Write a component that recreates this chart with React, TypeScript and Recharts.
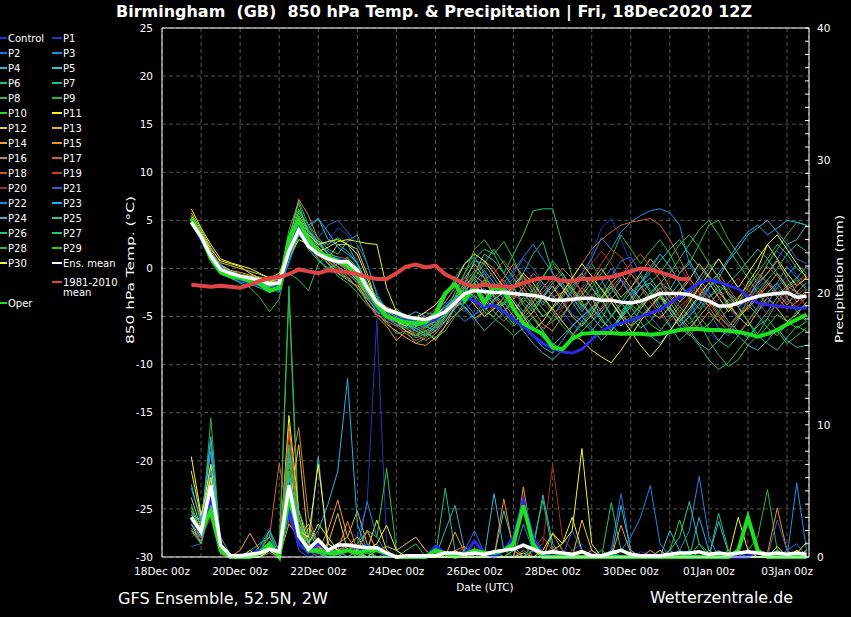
import { ComposedChart, Line, XAxis, YAxis, CartesianGrid, ReferenceLine } from 'recharts';

// forecast hours after 18Dec 00z (6-hourly, 18Dec 18z .. 03Jan 12z)
const hours = Array.from({ length: 64 }, (_, i) => 18 + 6 * i);
const dayTicks = Array.from({ length: 17 }, (_, i) => i * 24);
const dateLabels = ['18Dec 00z', '20Dec 00z', '22Dec 00z', '24Dec 00z', '26Dec 00z', '28Dec 00z', '30Dec 00z', '01Jan 00z', '03Jan 00z'];
const tempTicks = [-30, -25, -20, -15, -10, -5, 0, 5, 10, 15, 20, 25];
const rainTicks = Array.from({ length: 41 }, (_, i) => i);

// 850 hPa temperature (°C)
const tempControl = [4.9, 3.0, 1.2, 0.0, -0.6, -1.2, -1.5, -1.8, -2.2, -1.8, 1.5, 4.5, 2.5, 1.6, 1.2, 1.0, 0.6, -0.5, -2.4, -4.2, -5.0, -5.2, -5.4, -5.6, -5.7, -5.3, -4.5, -3.6, -3.0, -3.4, -4.0, -3.8, -4.5, -5.3, -6.0, -7.0, -7.8, -8.3, -8.7, -8.8, -8.4, -7.4, -6.5, -6.0, -5.7, -5.4, -5.0, -4.6, -4.3, -3.6, -3.0, -2.2, -1.5, -1.2, -1.4, -1.8, -2.1, -2.9, -3.6, -3.8, -3.9, -4.0, -4.1, -4.1];
const tempP1 = [4.6, 3.0, 1.4, 0.2, -0.4, -0.9, -1.3, -1.6, -2.0, -1.8, 1.0, 4.2, 3.0, 2.4, 2.8, 4.2, 3.5, 1.0, -2.5, -4.8, -5.5, -5.2, -5.8, -6.3, -6.0, -5.4, -4.2, -2.5, -1.2, -2.0, -0.5, -1.8, -3.0, -1.5, 0.2, -1.0, -2.8, -4.5, -5.6, -4.2, -2.0, 1.5, 4.2, 5.2, 3.0, 0.5, -1.8, -3.5, -4.8, -6.0, -5.2, -3.8, -5.5, -6.8, -7.5, -6.2, -4.5, -3.0, -1.2, 0.5, 1.8, 1.0, -0.8, -1.5];
const tempP2 = [5.0, 3.5, 1.0, -0.5, -1.0, -1.4, -1.6, -2.0, -2.4, -2.0, 0.5, 3.5, 2.0, 1.0, 0.0, 0.8, 0.2, -1.5, -3.5, -4.8, -5.6, -5.0, -5.8, -6.2, -6.8, -5.5, -4.8, -3.8, -4.5, -3.2, -2.0, -3.5, -2.2, -1.0, -2.5, -4.0, -2.8, -1.5, -3.2, -4.8, -5.5, -4.2, -2.5, -0.8, 0.8, 1.2, -0.5, -2.2, -3.8, -5.0, -3.5, -2.0, -3.2, -4.5, -6.2, -7.0, -5.5, -3.0, -1.8, -0.5, 1.0, 2.5, 1.0, 0.5];
const tempP3 = [4.8, 3.2, 1.2, -0.2, -0.6, -1.0, -1.2, -1.4, -1.8, -2.0, 1.5, 4.5, 3.5, 2.8, 1.5, 0.5, 0.8, 0.0, -1.8, -3.5, -4.8, -6.0, -5.5, -6.8, -6.2, -5.0, -3.8, -2.8, -3.5, -4.8, -4.2, -2.5, -1.8, -3.2, -4.5, -3.0, -1.5, -2.8, -4.0, -2.2, -0.5, 1.0, 3.2, 2.0, 3.8, 4.8, 5.5, 6.0, 6.2, 5.8, 4.5, 0.5, -1.5, -3.0, -2.2, -4.0, -5.2, -4.0, -2.5, -3.8, -1.5, 0.2, -1.0, -2.0];
const tempP4 = [4.9, 3.6, 1.8, 0.4, -0.2, -0.6, -1.0, -1.2, -1.5, -1.2, 2.2, 5.0, 4.2, 5.2, 3.0, 2.5, 1.8, 0.5, -1.5, -3.5, -4.5, -4.8, -5.0, -4.5, -5.0, -6.2, -5.5, -4.0, -2.2, -1.5, -3.0, -4.2, -3.5, -5.0, -6.5, -7.8, -8.8, -9.5, -8.5, -7.0, -5.5, -6.5, -5.2, -3.5, -4.8, -6.0, -4.2, -2.8, -1.5, -2.2, -0.5, 0.8, -1.0, -2.5, -4.0, -5.5, -6.5, -7.2, -5.8, -4.5, -3.0, -1.8, -2.5, -4.0];
const tempP5 = [5.1, 3.4, 1.5, 0.0, -0.4, -0.7, -0.9, -1.1, -1.4, -1.2, 2.5, 4.8, 3.0, 1.8, 1.2, 0.2, -0.5, -1.5, -2.5, -4.0, -4.8, -5.2, -5.5, -5.0, -4.6, -4.8, -4.5, -3.0, -1.5, 0.8, 0.5, -1.0, -2.5, -2.0, -0.8, -2.5, -3.8, -2.5, -1.5, -3.0, -4.5, -3.0, -5.2, -6.5, -4.8, -3.2, -2.0, -1.5, -2.8, -4.5, -6.0, -5.0, -3.8, -2.0, -1.0, 0.8, 2.0, 3.5, 4.2, 5.0, 3.8, 2.5, 3.0, 4.5];
const tempP6 = [4.7, 3.1, 1.1, -0.3, -0.8, -1.1, -1.4, -1.8, -2.5, -1.8, 2.8, 6.0, 4.5, 3.2, 2.0, 1.5, 2.8, 3.5, 0.5, -2.8, -4.2, -4.5, -4.8, -5.5, -5.8, -5.2, -3.0, -1.0, 0.5, 1.2, -0.5, -2.5, -3.8, -2.2, -0.5, 1.5, 2.8, -0.5, -2.0, -3.5, -5.0, -4.2, -3.0, -1.8, -3.5, -5.0, -6.2, -5.5, -4.0, -2.8, -1.5, -3.0, -4.2, -3.0, -1.8, -2.5, -4.0, -5.5, -6.8, -5.2, -3.5, -2.0, -1.2, -2.2];
const tempP7 = [4.9, 3.3, 1.0, -0.4, -0.9, -1.2, -1.5, -1.8, -2.2, -1.5, 3.2, 6.8, 3.5, 1.8, 0.5, -0.5, -1.0, -2.0, -3.0, -3.8, -4.8, -5.5, -6.5, -7.2, -6.8, -6.0, -4.5, -2.5, -0.5, 1.0, 2.0, 1.5, -0.5, 1.5, 3.5, 6.0, 6.2, 6.2, 2.5, -0.8, -2.5, -1.0, -3.2, -5.0, -3.5, -2.0, -0.8, -2.5, -4.2, -6.0, -7.5, -6.5, -5.0, -6.2, -7.5, -8.2, -7.0, -5.5, -4.0, -2.5, -1.5, -3.0, -4.5, -3.8];
const tempP8 = [4.6, 3.0, 0.8, -0.6, -1.0, -1.5, -2.0, -3.0, -4.5, -3.2, 1.5, 3.8, 2.0, 0.8, 0.0, 0.5, 1.2, 0.0, -2.2, -4.0, -5.5, -6.8, -6.5, -7.8, -7.2, -6.5, -5.2, -3.5, -2.0, -3.0, -4.5, -5.0, -3.5, -2.0, -3.8, -5.2, -6.5, -5.0, -3.5, -2.5, -1.0, 0.5, -1.2, -3.0, -4.5, -3.2, -1.5, 0.2, 1.5, 0.2, -1.5, -3.2, -5.5, -7.5, -9.0, -10.2, -9.5, -8.0, -7.0, -7.8, -8.5, -7.2, -6.0, -6.5];
const tempP9 = [5.0, 3.4, 1.4, 0.0, -0.5, -0.8, -1.0, -1.3, -1.6, -1.4, 4.0, 7.0, 4.5, 2.5, 1.8, 1.0, 0.5, -1.0, -3.0, -4.5, -5.0, -4.2, -5.0, -6.0, -6.5, -5.8, -4.2, -3.0, -0.5, 2.0, 3.0, 1.5, 2.8, 1.0, -1.5, -2.8, -1.0, 0.8, -0.5, -2.0, -3.5, -2.0, -0.5, 1.0, 3.5, 2.0, 0.5, 1.8, 3.0, 1.5, -0.5, 0.5, 2.5, 4.5, 5.0, 3.0, 1.5, 0.0, -1.5, 0.5, 2.0, 3.5, 4.8, 4.5];
const tempP10 = [5.2, 3.5, 1.5, 0.2, -0.2, -0.6, -0.8, -1.0, -1.3, -1.0, 3.5, 6.2, 4.0, 2.5, 1.5, 0.8, 0.0, -1.2, -3.2, -4.2, -5.0, -5.5, -5.8, -6.0, -5.8, -5.5, -4.8, -4.0, -3.5, -2.5, -1.2, -3.0, -4.5, -5.8, -4.5, -3.0, -4.2, -5.5, -4.8, -3.5, -2.5, -4.0, -5.5, -6.2, -5.0, -3.8, -4.5, -5.8, -6.5, -5.2, -4.0, -5.0, -6.5, -5.8, -4.5, -3.2, -4.0, -5.5, -7.2, -6.0, -4.8, -5.5, -6.2, -5.5];
const tempP11 = [5.5, 3.8, 2.0, 0.8, 0.5, 0.2, -0.5, -1.0, -1.4, -1.0, 1.0, 3.0, 2.5, 1.8, 2.2, 2.8, 3.0, 2.8, 2.6, 2.5, -2.0, -4.5, -5.5, -6.0, -5.5, -4.8, -4.0, -3.2, -2.5, -3.8, -5.0, -4.2, -3.0, -1.8, -0.5, -1.5, -3.0, -4.2, -5.5, -6.8, -7.5, -8.5, -9.2, -9.8, -8.5, -7.0, -5.5, -4.0, -2.8, -4.0, -5.5, -4.2, -2.8, -1.5, -3.0, -4.5, -3.2, -1.5, 0.0, 2.5, 1.0, -0.5, -1.8, -1.0];
const tempP12 = [5.8, 4.0, 2.2, 0.6, 0.3, 0.0, -0.3, -0.6, -1.0, -0.8, 1.2, 3.5, 3.0, 2.0, 1.0, 2.5, 2.5, 2.0, -0.5, -3.5, -5.0, -5.8, -6.5, -7.0, -6.5, -7.5, -6.0, -4.8, -4.0, -5.2, -4.5, -3.2, -2.5, -4.0, -5.5, -4.5, -3.0, -1.8, -3.5, -5.0, -6.0, -4.8, -3.0, -1.5, -0.5, -2.0, -3.2, -4.5, -5.2, -4.0, -2.5, -1.2, 0.5, -0.8, -2.0, -3.8, -5.0, -6.0, -4.5, -3.0, -4.2, -5.5, -4.8, -3.5];
const tempP13 = [5.3, 3.6, 1.7, 0.3, -0.2, -0.4, -0.7, -0.9, -1.2, -1.1, 2.0, 4.0, 2.8, 1.6, 0.5, -0.5, -1.2, -1.8, -2.5, -3.2, -4.0, -4.5, -5.2, -6.0, -5.5, -4.5, -3.5, -2.0, -1.0, 0.5, -1.0, -2.8, -4.0, -5.5, -4.8, -3.5, -2.0, -0.8, -2.0, -3.5, -2.8, -1.5, 0.0, -1.5, -3.0, -2.0, -0.5, 1.0, -0.2, -2.0, -3.5, -2.5, -1.0, 0.5, -1.0, -2.8, -4.0, -3.0, -1.5, -0.5, 0.8, -1.0, -2.5, -3.0];
const tempP14 = [5.0, 3.3, 1.0, -0.5, -0.9, -1.1, -1.4, -1.7, -2.0, -1.6, 2.5, 5.5, 3.8, 2.2, 1.2, 0.5, 0.2, -0.8, -2.8, -4.5, -5.8, -6.5, -7.2, -7.8, -8.0, -7.2, -6.0, -4.0, -2.5, -1.0, -2.5, -3.8, -4.5, -3.2, -2.0, -3.5, -5.0, -4.2, -2.8, -1.5, -0.5, -2.0, -3.5, -2.5, -1.2, -2.8, -4.2, -3.0, -2.0, -3.5, -5.0, -6.2, -5.0, -3.8, -2.5, -3.5, -5.0, -4.2, -3.0, -1.8, -0.5, -2.0, -3.5, -2.2];
const tempP15 = [5.2, 3.4, 1.3, -0.2, -0.6, -0.9, -1.1, -1.3, -1.7, -1.3, 2.2, 4.6, 3.2, 2.0, 1.0, 0.2, -0.5, -1.5, -3.5, -5.0, -6.0, -7.5, -6.5, -7.0, -6.0, -5.5, -4.5, -3.2, -1.8, -0.8, -1.5, -2.2, -1.0, 0.5, -0.8, -2.0, -3.5, -2.5, -1.0, -2.2, -3.8, -5.0, -4.2, -3.0, -4.5, -6.0, -5.2, -4.0, -3.0, -4.5, -6.0, -7.0, -5.8, -4.5, -5.5, -6.5, -5.2, -4.0, -2.8, -1.5, -2.5, -3.8, -2.5, -1.5];
const tempP16 = [5.0, 3.2, 1.1, -0.4, -0.8, -1.2, -1.5, -1.9, -2.2, -1.0, 3.0, 7.2, 5.5, 3.0, 1.5, 0.5, 0.0, -1.0, -3.0, -4.5, -5.0, -5.8, -6.2, -6.8, -7.5, -6.8, -5.5, -4.0, -3.0, -2.0, -3.2, -4.5, -5.5, -4.5, -3.0, -4.2, -5.8, -6.5, -5.0, -3.5, -2.0, -3.0, -4.5, -3.2, -2.0, -0.5, -1.8, -3.0, -4.5, -3.5, -2.2, -1.0, -2.5, -4.0, -5.5, -4.2, -3.0, -1.8, -0.5, -1.5, -3.0, -4.2, -3.5, -2.5];
const tempP17 = [4.8, 3.1, 1.2, -0.1, -0.6, -0.9, -1.2, -1.5, -1.8, -1.5, 1.8, 4.2, 2.8, 1.5, 0.8, 0.0, -0.8, -2.0, -3.5, -4.8, -5.5, -6.0, -6.8, -7.5, -7.0, -6.5, -5.0, -3.5, -2.0, -0.5, 0.8, 0.0, -1.5, -3.0, -2.0, -0.5, -1.5, -3.0, -2.5, -1.0, 0.5, 2.0, 3.0, 3.8, 4.5, 4.8, 5.0, 5.2, 4.5, 3.0, 1.0, -1.0, -2.5, -1.5, -0.5, -2.0, -3.5, -2.5, -1.0, 0.2, -0.8, -2.2, -1.5, -0.5];
const tempP18 = [5.1, 3.3, 1.4, 0.0, -0.5, -0.8, -1.1, -1.3, -1.6, -1.3, 2.0, 4.4, 3.0, 1.8, 1.2, 0.5, 0.0, -0.8, -2.5, -4.0, -4.8, -5.2, -5.5, -6.2, -6.8, -6.0, -5.0, -3.8, -2.8, -2.0, -1.2, -0.5, 0.8, -0.5, -2.0, -3.5, -2.5, -1.2, 0.0, -1.0, -2.5, -4.0, -3.2, -2.0, -0.8, 0.5, 1.5, 0.2, -1.2, -2.8, -4.0, -3.0, -2.0, -3.5, -5.0, -6.0, -4.8, -3.5, -2.0, -3.0, -4.2, -3.0, -1.8, -0.8];
const tempP19 = [4.9, 3.2, 1.3, -0.1, -0.5, -0.9, -1.3, -1.6, -2.0, -1.5, 1.5, 3.8, 2.5, 1.2, 0.8, 1.2, 1.0, -0.2, -2.0, -3.8, -5.0, -5.5, -6.0, -5.5, -5.0, -4.2, -3.5, -2.0, -1.0, -2.0, -3.2, -2.5, -1.2, -2.5, -3.8, -5.0, -6.2, -5.5, -4.2, -3.0, -2.0, -1.2, 0.5, 2.0, 1.2, -0.5, -2.0, -3.5, -4.8, -5.5, -4.5, -3.2, -2.0, -3.0, -4.5, -5.8, -6.8, -5.5, -4.2, -3.0, -2.0, -3.2, -4.0, -3.0];
const tempP20 = [5.0, 3.4, 1.5, 0.1, -0.3, -0.6, -0.9, -1.2, -1.5, -1.2, 1.8, 4.0, 2.6, 1.4, 0.6, 0.0, -0.6, -1.5, -3.0, -4.2, -5.0, -5.5, -6.0, -6.8, -6.2, -5.5, -4.5, -3.5, -2.8, -3.5, -4.8, -4.0, -3.0, -2.0, -1.0, -2.2, -3.5, -4.8, -4.0, -2.5, -1.0, 0.5, 1.8, 0.5, -1.2, -2.5, -3.8, -3.0, -2.2, -1.0, 0.2, -1.5, -3.0, -4.0, -3.2, -2.0, -1.0, -2.2, -3.5, -4.8, -3.5, -2.2, -3.0, -3.8];
const tempP21 = [4.7, 3.0, 1.0, -0.3, -0.8, -1.1, -1.5, -1.9, -2.3, -2.0, 1.2, 3.8, 3.5, 3.2, 4.5, 5.0, 3.8, 2.5, 0.5, -2.5, -4.5, -5.5, -6.0, -6.5, -6.0, -5.2, -4.0, -3.0, -4.2, -5.5, -4.5, -3.5, -2.0, -0.5, 1.0, 0.0, -1.5, -3.0, -4.5, -5.8, -6.5, -5.5, -4.0, -2.5, -1.0, -2.2, -3.5, -5.0, -6.2, -7.0, -6.0, -4.8, -3.5, -2.0, -1.0, -2.5, -4.0, -3.2, -2.0, -1.2, -2.5, -3.5, -2.8, -2.0];
const tempP22 = [4.8, 3.2, 1.3, -0.1, -0.5, -0.9, -1.2, -1.5, -1.9, -1.7, 1.6, 4.3, 3.2, 2.5, 1.8, 1.0, 0.8, -0.5, -2.5, -4.0, -5.2, -5.8, -6.2, -5.8, -5.2, -4.5, -3.5, -4.5, -5.5, -4.8, -3.5, -2.5, -1.5, -0.2, 1.2, 2.5, 1.0, -0.5, -1.8, -3.0, -4.2, -3.0, -1.5, 0.0, -1.2, -2.8, -1.5, -0.2, 1.5, 0.2, -1.5, -2.8, -1.5, 0.0, 1.0, -0.5, -2.0, -3.2, -4.5, -3.5, -2.0, -0.8, 0.5, -0.5];
const tempP23 = [5.0, 3.5, 1.6, 0.2, -0.3, -0.7, -1.0, -1.4, -1.8, -2.5, 1.0, 3.5, 4.5, 5.2, 3.8, 2.2, 1.5, 0.5, -1.5, -3.0, -4.2, -4.8, -5.2, -5.5, -6.0, -6.5, -5.5, -4.2, -3.0, -1.5, -0.2, -1.5, -2.8, -4.0, -5.5, -7.0, -8.2, -8.8, -7.5, -6.0, -5.0, -4.0, -5.2, -6.5, -5.0, -3.5, -2.0, -1.0, -2.5, -4.0, -5.5, -4.5, -3.0, -2.0, -0.5, 1.0, 2.5, 3.8, 4.5, 3.5, 4.2, 5.0, 4.8, 4.5];
const tempP24 = [5.0, 3.3, 1.2, -0.2, -0.6, -1.0, -1.3, -1.6, -2.0, -1.8, 2.5, 5.0, 3.8, 2.8, 1.5, 0.5, -0.2, -1.2, -2.8, -4.0, -4.5, -5.0, -5.5, -6.0, -5.5, -5.0, -4.0, -3.2, -4.0, -5.2, -6.5, -5.5, -4.5, -3.5, -4.8, -6.0, -7.2, -8.0, -7.0, -6.0, -5.0, -6.2, -7.5, -6.5, -5.2, -4.0, -5.5, -7.0, -7.8, -6.5, -5.2, -6.5, -7.8, -8.5, -7.5, -6.2, -7.0, -8.0, -8.5, -7.5, -6.2, -7.5, -8.2, -8.0];
const tempP25 = [4.9, 3.2, 1.1, -0.3, -0.7, -1.0, -1.3, -1.5, -1.9, -1.6, 3.0, 5.8, 4.0, 2.8, 2.5, 3.2, 2.5, 0.5, -1.8, -3.5, -4.2, -4.8, -5.5, -6.5, -7.0, -6.0, -4.8, -3.2, -2.0, -0.5, 1.5, 0.8, -0.5, -2.0, -3.5, -4.5, -3.0, -1.5, -0.5, -2.0, -3.5, -5.0, -6.2, -5.0, -3.8, -2.5, -1.5, -0.5, 0.8, 2.0, 3.0, 1.5, 0.2, -1.0, -2.5, -1.5, -0.5, 0.8, 2.0, 1.0, -0.5, -1.8, -1.0, 0.2];
const tempP26 = [5.1, 3.4, 1.3, -0.1, -0.6, -0.9, -1.1, -1.4, -1.8, -1.5, 2.2, 4.8, 3.2, 1.8, 0.8, -0.2, -1.0, -2.0, -3.2, -4.2, -5.0, -5.2, -5.8, -6.5, -7.0, -6.2, -5.0, -3.8, -2.5, -1.0, 0.5, 2.0, 0.5, -1.0, -2.5, -3.8, -5.0, -4.2, -3.0, -1.8, -0.8, -2.0, -3.2, -4.8, -6.0, -5.0, -3.8, -2.5, -1.5, -0.5, 1.0, 2.5, 4.0, 5.0, 3.5, 2.0, 0.5, -1.0, -2.5, -1.2, 0.0, 1.5, 2.5, 1.8];
const tempP27 = [4.8, 3.1, 1.0, -0.5, -0.9, -1.3, -1.6, -2.0, -2.5, -2.2, 0.8, 3.5, 2.8, 1.8, 0.5, -0.8, -1.5, -2.5, -3.8, -4.5, -5.0, -5.5, -5.8, -6.2, -6.8, -7.2, -6.5, -5.0, -3.5, -2.8, -4.0, -5.2, -6.0, -7.0, -6.2, -5.0, -6.5, -7.8, -8.5, -7.5, -6.5, -5.5, -4.5, -5.8, -7.0, -6.2, -5.0, -4.0, -3.0, -4.2, -5.5, -6.8, -8.0, -9.5, -10.5, -9.8, -8.5, -7.2, -6.0, -5.2, -6.5, -7.8, -7.0, -6.2];
const tempP28 = [5.0, 3.3, 1.2, -0.3, -0.7, -1.0, -1.3, -1.7, -2.2, -1.8, 1.5, 4.0, 2.5, 1.0, -0.2, 0.5, 1.0, 0.2, -1.5, -3.0, -4.5, -5.5, -5.0, -5.8, -6.2, -5.5, -4.8, -3.5, -2.0, -1.0, -2.5, -3.8, -5.0, -6.0, -5.2, -4.0, -3.0, -4.5, -6.0, -7.0, -5.8, -4.5, -3.2, -2.0, -3.5, -5.0, -4.0, -2.8, -1.5, -3.0, -4.5, -5.8, -4.5, -3.2, -4.8, -6.0, -5.0, -3.8, -4.8, -6.2, -7.0, -5.8, -4.5, -5.5];
const tempP29 = [5.2, 3.6, 1.6, 0.1, -0.4, -0.8, -1.2, -1.6, -2.0, -1.5, -0.5, -1.2, -2.3, 0.5, 1.5, 1.2, 0.5, -0.5, -2.0, -3.5, -4.8, -5.5, -6.2, -7.0, -6.5, -5.8, -4.5, -3.0, -1.5, -0.2, -1.0, -2.0, -3.2, -4.5, -3.5, -2.2, -0.8, 0.5, -0.8, -2.5, -4.0, -3.2, -2.0, -3.5, -5.0, -4.0, -2.8, -1.5, -0.5, 1.0, 2.5, 3.5, 2.2, 0.5, -1.0, -2.5, -3.5, -2.0, -0.5, 1.0, 2.5, 1.5, 0.0, -0.8];
const tempP30 = [6.2, 4.2, 2.5, 1.0, 0.6, 0.3, 0.0, -0.5, -1.0, -0.5, 2.0, 4.5, 3.5, 2.5, 2.8, 3.0, 2.5, 1.5, -1.0, -3.5, -5.0, -5.5, -6.0, -5.2, -4.5, -3.8, -2.5, -1.5, 0.5, 1.5, 0.8, -0.5, -2.0, -3.5, -5.0, -6.5, -5.5, -4.0, -2.5, -1.0, 0.5, -0.8, -2.2, -3.5, -5.0, -6.5, -8.0, -9.2, -8.0, -6.5, -5.0, -3.5, -2.0, -0.5, 1.0, -0.5, -2.0, -0.5, 1.0, 2.5, 3.5, 2.0, 0.5, -1.0];
const tempMean = [4.8, 3.3, 1.3, -0.1, -0.5, -0.8, -1.0, -1.2, -1.6, -1.5, 1.8, 4.0, 2.3, 1.5, 1.0, 0.7, 0.7, -0.2, -2.0, -3.5, -4.3, -4.6, -5.0, -5.2, -5.3, -5.0, -4.5, -3.6, -2.6, -2.3, -2.4, -2.5, -2.5, -2.6, -2.7, -2.8, -3.0, -3.3, -3.3, -3.2, -3.1, -3.1, -3.3, -3.3, -3.5, -3.6, -3.4, -3.0, -2.6, -2.6, -2.6, -2.7, -3.1, -3.4, -3.9, -3.9, -3.6, -3.2, -2.9, -2.7, -2.6, -2.5, -3.0, -2.9];
const tempClimate = [-1.7, -1.8, -1.9, -1.8, -1.9, -2.0, -1.7, -1.3, -1.0, -0.9, -0.6, -0.1, -0.3, -0.5, -0.2, -0.3, -0.4, -0.6, -0.9, -1.1, -1.1, -0.5, 0.2, 0.4, 0.1, 0.3, -0.6, -1.1, -1.6, -1.9, -1.7, -1.8, -1.9, -1.9, -1.5, -1.2, -1.0, -1.0, -1.3, -1.3, -1.1, -1.1, -1.0, -0.9, -0.6, -0.3, 0.0, -0.1, -0.4, -0.7, -1.1, -1.1];
const tempOper = [5.2, 3.4, 1.0, -0.4, -0.8, -1.0, -1.3, -1.6, -2.3, -2.0, 3.0, 5.0, 3.0, 1.8, 1.2, 0.8, 0.3, -0.8, -2.2, -3.8, -5.0, -5.3, -5.6, -5.7, -5.6, -4.7, -2.6, -1.6, -3.3, -1.8, -3.6, -1.9, -2.2, -4.2, -5.7, -6.3, -6.8, -8.2, -8.4, -7.3, -6.8, -6.7, -6.7, -6.7, -6.8, -6.8, -6.8, -6.9, -6.8, -6.6, -6.4, -6.3, -6.3, -6.4, -6.4, -6.5, -6.6, -6.8, -7.1, -6.8, -6.4, -5.8, -5.3, -4.8];

// 6-hourly precipitation (mm)
const rainControl = [2.8, 1.8, 4.5, 0.6, 0, 0, 0.2, 0.5, 1.0, 0.2, 3.5, 1.0, 0.3, 1.0, 0.5, 0.2, 0.5, 0.3, 0.8, 0.5, 0.2, 0, 0, 0, 0, 0.8, 0.3, 0, 0.2, 1.2, 0.3, 0, 0.5, 1.5, 4.3, 1.5, 0.2, 0, 0, 0, 0, 0, 0, 0, 0, 0, 0, 0, 0, 0, 0, 0, 0, 0, 0, 0, 0, 0, 0.5, 0, 0, 0, 0, 0];
const rainP1 = [1.5, 2.0, 6.0, 0.5, 0, 0, 0.3, 1.0, 2.2, 0.3, 3.0, 1.5, 0.5, 0, 0.5, 1.0, 2.0, 1.5, 4.0, 18.0, 1.0, 0, 0, 0, 0, 0, 0, 0.3, 0, 0, 0, 0, 0, 0.5, 0, 0, 0.3, 0, 0, 0.5, 1.0, 0.3, 0, 0, 0, 0, 0.4, 0.2, 0, 0, 0, 0, 0, 0, 0, 0, 0, 0.3, 0, 0, 0.5, 0, 0, 0];
const rainP2 = [2.5, 1.2, 5.0, 0.2, 0, 0, 0, 0.5, 1.5, 0, 4.0, 0.5, 0, 0.3, 0, 0.5, 0.8, 0.5, 0, 0, 0.3, 0, 0, 0, 0, 0, 0, 0, 0.5, 2.0, 0.3, 0, 0, 0, 0.5, 0, 0, 0, 0, 0, 0, 0, 0, 0.5, 4.8, 0.5, 0, 0, 0, 0, 0.3, 0, 0, 0, 0, 0, 0, 0, 0, 0, 0, 0.5, 1.0, 0];
const rainP3 = [3.0, 2.2, 8.7, 0.8, 0, 0, 0, 0, 0.5, 0, 6.0, 2.0, 0.5, 0.8, 0.3, 0, 0.5, 0, 0.5, 1.0, 0, 0, 0, 0, 0, 0, 0, 0, 0, 0, 0, 0.5, 0, 0, 2.5, 0.5, 0, 0, 0, 0, 0, 0, 0, 0.3, 0, 0, 0, 0, 0.5, 0, 0, 0, 0, 0, 0.5, 0, 0, 0, 0, 0, 0, 0, 5.6, 0.5];
const rainP4 = [5.5, 2.5, 9.1, 1.0, 0, 0, 0, 0.3, 0.8, 0, 7.5, 1.5, 0.5, 7.6, 0.5, 0, 0.5, 0.3, 0, 0, 0, 0, 0, 0, 0, 0.5, 0, 0, 0, 0, 0, 4.8, 0.5, 0, 0, 0, 0, 0, 0, 0, 0, 0, 0, 0, 3.9, 0.5, 0, 0, 0, 0, 0, 0.5, 0, 0, 2.7, 0.3, 0, 0, 0, 0, 0.5, 0, 0, 0];
const rainP5 = [3.5, 1.5, 7.0, 0.5, 0, 0, 0, 0, 0.3, 0, 5.0, 2.0, 0.8, 0.3, 1.0, 0.5, 0, 0, 0.5, 0, 0, 0, 0, 0, 0, 0, 0, 0.5, 0, 0, 0, 0, 3.5, 0.8, 0, 0, 0, 0.3, 0, 0, 0, 0, 0, 0, 0, 0, 0, 0.5, 0, 2.0, 0.5, 0, 0, 0, 0, 0, 0, 0, 0.3, 0, 0, 0, 0, 0.5];
const rainP6 = [2.0, 1.5, 4.0, 0.2, 0, 0, 0, 0.5, 1.0, 0, 8.0, 3.0, 1.0, 0.5, 0, 0, 0.5, 0.8, 0.3, 0, 0, 0, 0, 0, 0, 0, 5.2, 0.5, 0, 0, 0, 0, 0, 0, 0, 0.5, 0, 0, 0, 0, 0, 0, 0, 0, 0.5, 0, 0, 0, 0, 0, 0, 0, 0, 0, 0, 0, 0.3, 0, 0, 0, 0, 0, 0, 0];
const rainP7 = [2.2, 1.0, 5.5, 0.3, 0, 0, 0, 0.8, 2.0, 0.5, 20.5, 2.5, 0.5, 1.0, 0.5, 0, 0, 0, 0, 0.5, 0, 0, 0, 0, 0, 0, 0, 0, 0, 0, 0, 0, 0, 0.5, 1.0, 0, 0, 0, 0, 0, 0, 0, 0, 4.1, 0.5, 0, 0, 0, 0, 0, 0, 0, 0, 0, 0, 0, 0, 0, 0, 0, 0, 0, 0, 0];
const rainP8 = [3.2, 2.8, 7.0, 1.5, 0.2, 0, 0.5, 1.0, 1.5, 0.3, 4.5, 1.0, 2.2, 0.5, 1.0, 0.5, 0, 0.5, 0, 0, 0, 0, 0, 0, 0, 0, 0, 0, 0, 0.5, 0, 0, 0, 0, 0, 0, 0, 0.5, 0, 0, 0, 0, 0.5, 0, 0, 0, 0, 0, 0, 0, 0, 0, 1.0, 0.3, 0, 0, 0, 0, 0, 0, 0, 0.3, 0, 0];
const rainP9 = [4.0, 1.5, 10.5, 0.8, 0, 0, 0, 0.3, 1.0, 0, 19.8, 1.5, 0.5, 0, 0.3, 0, 0, 0, 0, 0, 0, 0, 0, 0, 0, 0, 0, 0, 0, 0, 0.5, 0, 0, 0, 0, 0, 0, 0, 0, 0, 0, 0, 0, 0, 0, 0, 0, 0, 0, 0, 0.5, 0, 0, 0, 0, 0, 0, 0.5, 1.5, 5.1, 0.5, 0, 0, 0];
const rainP10 = [3.8, 2.0, 6.0, 0.5, 0, 0, 0, 0.2, 1.2, 0, 5.0, 2.0, 0.5, 0.3, 0, 0, 0, 0, 0.3, 0, 0, 0, 0, 0, 0, 0, 0, 0, 0, 0, 0, 0, 0, 0.5, 0, 0, 0, 0, 0, 0, 0, 0, 0, 0, 0.5, 0, 0, 0, 0, 0.5, 2.8, 0.5, 0, 0, 0, 0, 0, 0, 0, 0, 0, 0, 0, 0];
const rainP11 = [6.5, 3.0, 7.0, 1.0, 0, 0, 0, 0, 0.5, 0, 10.7, 3.5, 1.0, 2.5, 1.5, 0.5, 0.8, 1.5, 0.5, 2.8, 0.5, 0, 0, 0, 0, 0, 0, 0.5, 0, 0, 0, 0, 0, 0, 0.3, 0, 0, 0.5, 1.0, 3.0, 0.5, 0, 0, 0, 0, 0, 0, 0, 0, 0, 0, 0, 0, 0, 0, 0, 3.0, 0.5, 0, 0, 0.8, 0, 0.3, 1.1];
const rainP12 = [4.5, 2.2, 5.0, 0.5, 0, 0, 0, 0.5, 0.5, 0, 3.5, 8.5, 1.0, 0.5, 1.0, 3.3, 0.5, 0.3, 0, 0.5, 0.8, 0.5, 1.0, 1.5, 0.5, 0, 0, 0, 0, 0, 0, 0, 0, 0, 0, 0.5, 0, 0, 0, 0, 2.8, 0.5, 0, 0, 0, 0, 0, 0, 0, 0, 0, 0, 0, 0.5, 0, 0, 0, 0, 0, 0, 0.3, 0, 0, 0.5];
const rainP13 = [3.0, 1.8, 5.5, 0.3, 0, 0, 0.5, 0, 0.5, 0, 2.5, 1.5, 2.5, 0.8, 0.5, 1.0, 1.5, 3.5, 1.0, 0.5, 0.3, 0, 0, 0, 0, 0, 0, 0, 0, 0, 0, 0, 0, 0, 0, 0, 0, 1.8, 0.5, 0, 0, 0.5, 0, 0, 0, 0, 0, 0, 0.5, 0, 0, 0, 0, 0, 0, 0, 0, 0, 0, 0, 0, 0, 0.5, 0];
const rainP14 = [2.5, 1.0, 4.0, 0.5, 0, 0.5, 1.8, 0.5, 1.0, 0, 6.5, 2.5, 1.0, 0.5, 2.0, 4.3, 1.5, 0.5, 2.0, 0.5, 0, 0, 0, 0, 0, 0, 0, 1.9, 0.3, 0, 0, 0, 0, 0, 5.3, 0.8, 0, 0, 0, 0, 0, 0, 0, 0, 2.4, 0.3, 0, 0, 0, 0, 0, 0, 0, 0, 0, 0, 0, 0, 0, 0, 0, 0, 0, 0];
const rainP15 = [3.0, 2.0, 6.5, 0.5, 0, 0, 0, 0, 0.8, 0, 10.0, 3.0, 0.5, 0.5, 1.0, 0.5, 2.7, 0.5, 2.0, 0.5, 0, 0, 0, 0, 0, 0, 0, 0, 0, 0, 0, 0, 4.4, 0.5, 0, 0, 0, 0, 0, 0, 0, 0, 0, 0, 0, 0, 0, 0, 0, 0, 0, 0, 0, 0, 0, 0, 0, 0, 0.5, 0.3, 3.7, 0.5, 0, 0];
const rainP16 = [2.8, 1.5, 3.5, 0.5, 0, 0, 0, 0.3, 0.5, 0.5, 6.0, 9.8, 3.0, 1.0, 0.3, 0, 0.5, 0, 0, 0, 0, 0, 0, 0, 0, 0, 0, 0.5, 0.8, 0, 0, 0, 0, 0, 0, 0, 0, 0, 0, 0, 0, 0, 0, 0, 0, 0, 0, 0, 0, 0, 0, 0, 0, 0, 0, 0, 0, 0, 0, 0, 0, 0, 0, 0];
const rainP17 = [3.5, 2.5, 5.8, 1.0, 0.2, 0, 0, 0.5, 1.5, 7.1, 2.5, 1.5, 0.5, 0.8, 0.5, 0.5, 0.5, 0.5, 2.0, 0.5, 0, 0, 0, 0, 0, 0, 0, 0, 0.8, 0, 0, 0, 0, 0, 0, 0, 0, 0, 0, 0, 0, 0, 0, 0, 0, 0, 0, 0.5, 0, 0, 0, 0, 0, 0, 0, 0, 0, 0, 0, 0, 0, 0, 0, 0];
const rainP18 = [2.0, 1.2, 4.5, 0.5, 0, 0, 0, 0, 0.5, 0, 9.5, 2.0, 0.5, 0.3, 0.5, 0, 0, 0, 0, 0, 0, 0, 0, 0, 0, 0, 0, 0, 0, 0, 0, 0, 0, 0, 0.5, 0, 0, 0.8, 0, 0, 0, 0, 0, 0, 0, 0, 0, 0, 0, 0, 0, 0, 0, 0, 0, 0, 0, 0, 0, 0, 0, 0, 0, 0];
const rainP19 = [1.8, 1.5, 3.0, 0.3, 0, 0, 0, 0, 0.5, 0, 4.0, 1.0, 0.5, 0.3, 0, 0.5, 0.8, 0.5, 0, 0, 0, 0, 0, 0, 0, 0, 0, 0, 0, 0, 0, 0, 0, 0, 0, 0.5, 1.5, 0.5, 0, 0, 0, 0, 0, 0, 0, 0, 0, 0, 0, 0, 0, 0, 0, 0, 0, 0, 0, 0, 0, 0, 0, 0, 0, 0];
const rainP20 = [2.5, 1.5, 4.8, 0.2, 0, 0, 0, 0, 0.3, 0, 3.5, 1.5, 0.5, 0, 0.5, 0, 0, 0, 0, 0, 0, 0, 0, 0, 0, 0, 0, 0, 0, 0, 0, 0, 0, 0, 0, 0.5, 1.0, 7.0, 1.5, 0.5, 0, 0, 0, 0, 0, 0, 0, 0, 0, 0, 0, 0, 0, 0, 0, 0, 0, 0, 0, 0, 0, 0, 0, 0];
const rainP21 = [0.8, 1.0, 3.5, 0.5, 0, 0, 0, 0.5, 1.8, 0, 3.0, 1.0, 0.5, 0, 0, 0, 0, 0.5, 1.0, 0.5, 0, 0, 0, 0, 0, 0, 0, 0, 0, 0, 0, 0, 0, 0, 0, 0, 0, 0, 0, 2.0, 0.5, 0, 0, 0, 0, 0, 0, 0, 0, 0, 0, 0, 0, 0, 0, 0, 0, 0, 0, 0, 2.8, 0.5, 0, 0];
const rainP22 = [3.0, 2.0, 6.5, 0.5, 0, 0, 0, 0, 0.5, 0, 5.5, 2.0, 0.5, 1.0, 0.5, 0.5, 1.0, 0.5, 4.2, 1.5, 0.3, 0, 0, 0, 0, 0, 0, 0, 0, 0, 0, 0, 0, 0, 0, 0, 0, 0, 0, 0, 0, 0, 0, 0, 0.5, 1.5, 3.0, 5.4, 1.0, 0, 0.5, 2.0, 6.1, 1.5, 0, 0, 0, 0, 0, 0, 0, 0, 0, 0];
const rainP23 = [5.2, 2.8, 8.0, 0.8, 0, 0, 0, 0, 0.5, 0, 6.0, 3.0, 1.0, 2.0, 4.0, 6.5, 13.5, 2.5, 0.5, 0, 0, 0, 0, 0, 0, 0, 0, 0, 0, 0, 0, 0, 0, 0, 0, 0, 0, 0, 0, 0, 0, 0, 0, 0.5, 0, 0, 0, 0, 0, 0, 0, 0, 3.0, 0.5, 0, 0, 0, 0, 0, 0, 0, 0, 0, 0];
const rainP24 = [3.5, 2.5, 6.0, 0.5, 0, 0, 0, 0, 0.8, 0, 4.0, 1.5, 0.3, 0.5, 0, 0, 0, 0.5, 0, 0, 0, 0, 0, 0, 0, 0, 2.0, 3.9, 0.5, 0, 0, 0, 0, 0, 0, 0.5, 4.7, 1.0, 0, 0, 0, 0, 0, 0, 0, 0, 0, 0, 0, 0.5, 0, 0, 0, 0, 0, 0, 0, 0, 0, 0, 0, 0, 0, 0];
const rainP25 = [2.5, 1.5, 5.0, 0.5, 0, 0, 0, 0, 0.5, 0, 4.5, 1.0, 0.5, 0.3, 0, 0, 0, 0, 0, 0, 0, 0, 0, 0, 0, 0, 0, 0, 0, 0, 0, 0, 0, 0, 0, 0, 0, 0, 0, 0, 0.5, 0, 0, 0, 0, 0, 0, 0, 0, 0.5, 1.5, 4.2, 1.0, 0, 0, 0, 0, 0, 0, 0, 0, 0, 0, 0];
const rainP26 = [3.0, 1.8, 5.5, 0.8, 0, 0, 0, 0, 1.0, 0, 5.5, 2.5, 0.5, 0.5, 0, 0, 0, 0, 0, 0, 0, 0, 0, 0, 0, 0, 0, 0, 0, 0, 0, 0.5, 0, 0, 0, 1.0, 4.3, 0.5, 0, 0, 0, 0, 0, 0, 0, 0, 0, 0, 0, 0, 0, 0, 0, 0, 3.3, 0.5, 0, 0, 0, 0, 0, 0, 0, 0];
const rainP27 = [2.0, 1.0, 4.0, 0.3, 0, 0, 0, 0, 0.5, 0, 8.5, 2.0, 0.5, 0.3, 0, 0.5, 0.5, 1.0, 2.0, 1.5, 6.7, 0.5, 0, 0, 0, 0, 0, 0, 0, 0, 0, 0, 0, 0, 0, 0, 0, 0, 0, 0, 0, 0, 0, 0, 0, 0, 0, 0, 0, 0, 0, 0, 0, 0, 0, 0, 0, 0, 0, 0, 0, 0, 0, 0];
const rainP28 = [2.8, 1.6, 4.8, 0.5, 0, 0, 0, 0.3, 2.0, 0, 6.5, 1.5, 0.5, 0.5, 0.3, 0, 0, 0, 0, 0, 0, 0, 0, 0, 0, 0, 0, 0, 0, 0, 0, 0, 0.5, 1.0, 4.5, 1.0, 0, 0, 0, 0, 0, 0, 0, 0, 0, 0, 0, 0, 0, 0, 0, 0, 0, 0, 0, 0, 0, 0, 0, 0, 0.5, 0, 0, 0];
const rainP29 = [3.2, 2.0, 6.0, 0.5, 0, 0, 0, 0.5, 1.0, 0, 7.0, 3.5, 1.5, 1.0, 0.5, 0.5, 0.5, 0, 0.5, 0, 0, 0, 0.5, 1.0, 0, 0, 0, 0, 0, 0, 0, 0, 0, 0, 0, 0, 0, 0, 0, 0, 0, 0, 0, 0, 0, 0, 0, 0, 0, 0, 0, 0, 0, 0, 0, 0.5, 0, 0, 0, 0, 0, 0, 0, 0];
const rainP30 = [7.6, 3.2, 6.0, 0.5, 0, 0, 0, 0, 0.5, 0, 4.5, 2.0, 1.5, 7.0, 1.0, 0.5, 0.5, 0.5, 0.5, 1.0, 2.4, 0.5, 0, 0, 0, 0, 0, 0, 0, 0, 0, 0, 0, 0, 0, 0, 0.5, 1.8, 1.0, 2.0, 8.2, 1.0, 0, 0, 0, 0, 0, 0, 0, 0, 0, 0, 0, 0, 0, 0, 0, 0, 0, 0, 0, 0, 0.5, 0];
const rainMean = [3.0, 1.9, 5.4, 0.9, 0.1, 0.1, 0.2, 0.3, 0.6, 0.4, 5.4, 1.6, 0.6, 1.3, 0.5, 0.9, 0.9, 0.8, 0.7, 0.7, 0.3, 0.0, 0.1, 0.1, 0.1, 0.1, 0.3, 0.3, 0.2, 0.3, 0.2, 0.4, 0.5, 0.6, 0.9, 0.6, 0.3, 0.4, 0.3, 0.2, 0.4, 0.1, 0.1, 0.3, 0.5, 0.2, 0.1, 0.1, 0.1, 0.2, 0.3, 0.3, 0.4, 0.2, 0.3, 0.2, 0.3, 0.4, 0.3, 0.2, 0.3, 0.2, 0.3, 0.2];
const rainOper = [3.0, 2.0, 3.5, 0.5, 0, 0, 0, 0.3, 1.0, 0, 4.5, 2.0, 0.5, 0.5, 0.3, 0.3, 0.5, 0.3, 0.5, 0.5, 0.3, 0, 0, 0, 0, 0.5, 0.3, 0, 0.2, 0.5, 0.3, 0.3, 0.5, 1.0, 3.9, 1.0, 0, 0, 0, 0, 0, 0, 0, 0, 0, 0, 0, 0, 0, 0, 0, 0, 0, 0, 0, 0, 0.5, 3.0, 0.5, 0, 0, 0, 0, 0];

const memberNames = ['Control', 'P1', 'P2', 'P3', 'P4', 'P5', 'P6', 'P7', 'P8', 'P9', 'P10', 'P11', 'P12', 'P13', 'P14', 'P15', 'P16', 'P17', 'P18', 'P19', 'P20', 'P21', 'P22', 'P23', 'P24', 'P25', 'P26', 'P27', 'P28', 'P29', 'P30'];
const memberColors = ['#2a2ae8', '#2236b8', '#1f74e0', '#1f90e4', '#3cb2d2', '#3cbccc', '#20c08c', '#22c472', '#2eb862', '#30b444', '#2ad82a', '#f4f420', '#e2c44e', '#e6b23c', '#f0a030', '#f08e20', '#cc8244', '#d4622e', '#d4502e', '#cc3e2a', '#a0302e', '#3060c4', '#1f86e6', '#22b4ea', '#40b2c2', '#30c496', '#22c474', '#22c862', '#30b654', '#34c234', '#f4f440'];
const memberTemps = [tempControl, tempP1, tempP2, tempP3, tempP4, tempP5, tempP6, tempP7, tempP8, tempP9, tempP10, tempP11, tempP12, tempP13, tempP14, tempP15, tempP16, tempP17, tempP18, tempP19, tempP20, tempP21, tempP22, tempP23, tempP24, tempP25, tempP26, tempP27, tempP28, tempP29, tempP30];
const memberRains = [rainControl, rainP1, rainP2, rainP3, rainP4, rainP5, rainP6, rainP7, rainP8, rainP9, rainP10, rainP11, rainP12, rainP13, rainP14, rainP15, rainP16, rainP17, rainP18, rainP19, rainP20, rainP21, rainP22, rainP23, rainP24, rainP25, rainP26, rainP27, rainP28, rainP29, rainP30];

const MEAN_COLOR = '#ffffff';
const CLIM_COLOR = '#e04444';
const OPER_COLOR = '#1ee01e';

const rows = hours.map((t, i) => {
  const row: Record<string, number | null> = {
    t,
    tMean: tempMean[i] ?? null,
    tClim: tempClimate[i] ?? null,
    tOper: tempOper[i] ?? null,
    rMean: rainMean[i] ?? null,
    rOper: rainOper[i] ?? null,
  };
  memberNames.forEach((n, k) => {
    row['t' + n] = memberTemps[k][i] ?? null;
    row['r' + n] = memberRains[k][i] ?? null;
  });
  return row;
});

function DateTick({ x, y, payload }: any) {
  const v = payload.value;
  if (v % 48 !== 0) return <g />;
  return (
    <text x={x} y={y + 10} textAnchor="middle" fill="#fff" fontSize={10.5} fontFamily="DejaVu Sans">
      {dateLabels[v / 48]}
    </text>
  );
}

function RainTick({ x, y, payload }: any) {
  const v = payload.value;
  return (
    <g>
      <line x1={x - 4} x2={x} y1={y} y2={y} stroke="#fff" />
      {v % 10 === 0 && (
        <text x={x + 8} y={y + 4} fill="#fff" fontSize={10.5} fontFamily="DejaVu Sans">
          {v}
        </text>
      )}
    </g>
  );
}

function LegendBox() {
  const items = memberNames.map((n, k) => ({ label: n, color: memberColors[k] }));
  items.push({ label: 'Ens. mean', color: MEAN_COLOR });
  return (
    <g fontFamily="DejaVu Sans" fontSize={10} fill="#fff">
      {items.map((it, k) => {
        const col = k % 2;
        const yy = 38 + Math.floor(k / 2) * 15;
        const x0 = col === 0 ? 0 : 52;
        return (
          <g key={it.label}>
            <line x1={x0} x2={x0 + 7 + col * 3} y1={yy} y2={yy} stroke={it.color} strokeWidth={2} />
            <text x={x0 + 8 + col * 3} y={yy + 4}>{it.label}</text>
          </g>
        );
      })}
      <line x1={52} x2={62} y1={282} y2={282} stroke={CLIM_COLOR} strokeWidth={2} />
      <text x={63} y={286}>1981-2010</text>
      <text x={63} y={296}>mean</text>
      <line x1={0} x2={7} y1={303} y2={303} stroke={OPER_COLOR} strokeWidth={2} />
      <text x={8} y={307}>Oper</text>
    </g>
  );
}

export default function App() {
  return (
    <div style={{ position: 'absolute', left: 0, top: 0, width: 851, height: 617, background: '#000', overflow: 'hidden' }}>
      <ComposedChart width={851} height={617} data={rows} margin={{ top: 28, right: 12, bottom: 40, left: 132 }}>
        <CartesianGrid yAxisId="t" stroke="#555" strokeDasharray="4 3" />
        <XAxis
          type="number"
          dataKey="t"
          domain={[0, 397.5]}
          ticks={dayTicks}
          interval={0}
          allowDataOverflow
          tick={<DateTick />}
          tickLine={false}
          axisLine={{ stroke: '#fff' }}
          height={20}
        />
        <YAxis
          yAxisId="t"
          orientation="left"
          domain={[-30, 25]}
          ticks={tempTicks}
          interval={0}
          width={30}
          tickLine={false}
          tickMargin={3}
          axisLine={{ stroke: '#fff' }}
          tick={{ fill: '#fff', fontSize: 10.5, fontFamily: 'DejaVu Sans' }}
        />
        <YAxis
          yAxisId="p"
          orientation="right"
          domain={[0, 40]}
          ticks={rainTicks}
          interval={0}
          width={30}
          tickLine={false}
          tickSize={0}
          tickMargin={0}
          axisLine={{ stroke: '#fff' }}
          tick={<RainTick />}
        />
        <ReferenceLine yAxisId="t" y={25} stroke="#fff" />

        {memberNames.map((n, k) =>
          k === 0 ? null : (
            <Line key={'r' + n} yAxisId="p" dataKey={'r' + n} stroke={memberColors[k]} strokeWidth={1} dot={false} isAnimationActive={false} />
          )
        )}
        {memberNames.map((n, k) =>
          k === 0 ? null : (
            <Line key={'t' + n} yAxisId="t" dataKey={'t' + n} stroke={memberColors[k]} strokeWidth={1} dot={false} isAnimationActive={false} />
          )
        )}
        <Line yAxisId="p" dataKey="rControl" stroke={memberColors[0]} strokeWidth={3} dot={false} isAnimationActive={false} />
        <Line yAxisId="t" dataKey="tControl" stroke={memberColors[0]} strokeWidth={3} dot={false} isAnimationActive={false} />
        <Line yAxisId="p" dataKey="rOper" stroke={OPER_COLOR} strokeWidth={4} dot={false} isAnimationActive={false} />
        <Line yAxisId="t" dataKey="tOper" stroke={OPER_COLOR} strokeWidth={4} dot={false} isAnimationActive={false} />
        <Line yAxisId="p" dataKey="rMean" stroke={MEAN_COLOR} strokeWidth={3.5} dot={false} isAnimationActive={false} />
        <Line yAxisId="t" dataKey="tMean" stroke={MEAN_COLOR} strokeWidth={3.5} dot={false} isAnimationActive={false} />
        <Line yAxisId="t" dataKey="tClim" stroke={CLIM_COLOR} strokeWidth={4} dot={false} connectNulls={false} isAnimationActive={false} />
      </ComposedChart>

      <svg width={851} height={617} style={{ position: 'absolute', left: 0, top: 0, pointerEvents: 'none' }}>
        <text x={434} y={17} textAnchor="middle" fill="#fff" fontFamily="DejaVu Sans" fontWeight="bold" fontSize={16} textLength={636} lengthAdjust="spacingAndGlyphs" xmlSpace="preserve" style={{ whiteSpace: 'pre' }}>
          {'Birmingham  (GB)  850 hPa Temp. & Precipitation | Fri, 18Dec2020 12Z'}
        </text>
        <LegendBox />
        <text transform="translate(134,270) rotate(-90)" textAnchor="middle" fill="#fff" fontFamily="DejaVu Sans" fontSize={11} textLength={148} lengthAdjust="spacingAndGlyphs">
          850 hPa Temp. (°C)
        </text>
        <text transform="translate(843,279) rotate(-90)" textAnchor="middle" fill="#fff" fontFamily="DejaVu Sans" fontSize={11} textLength={128} lengthAdjust="spacingAndGlyphs">
          Precipitation (mm)
        </text>
        <text x={485} y={591} textAnchor="middle" fill="#fff" fontFamily="DejaVu Sans" fontSize={10.5}>
          Date (UTC)
        </text>
        <text x={118} y={604} fill="#fff" fontFamily="DejaVu Sans" fontSize={16} textLength={210} lengthAdjust="spacingAndGlyphs">
          GFS Ensemble, 52.5N, 2W
        </text>
        <text x={650} y={603} fill="#fff" fontFamily="DejaVu Sans" fontSize={16} textLength={143} lengthAdjust="spacingAndGlyphs">
          Wetterzentrale.de
        </text>
      </svg>
    </div>
  );
}
